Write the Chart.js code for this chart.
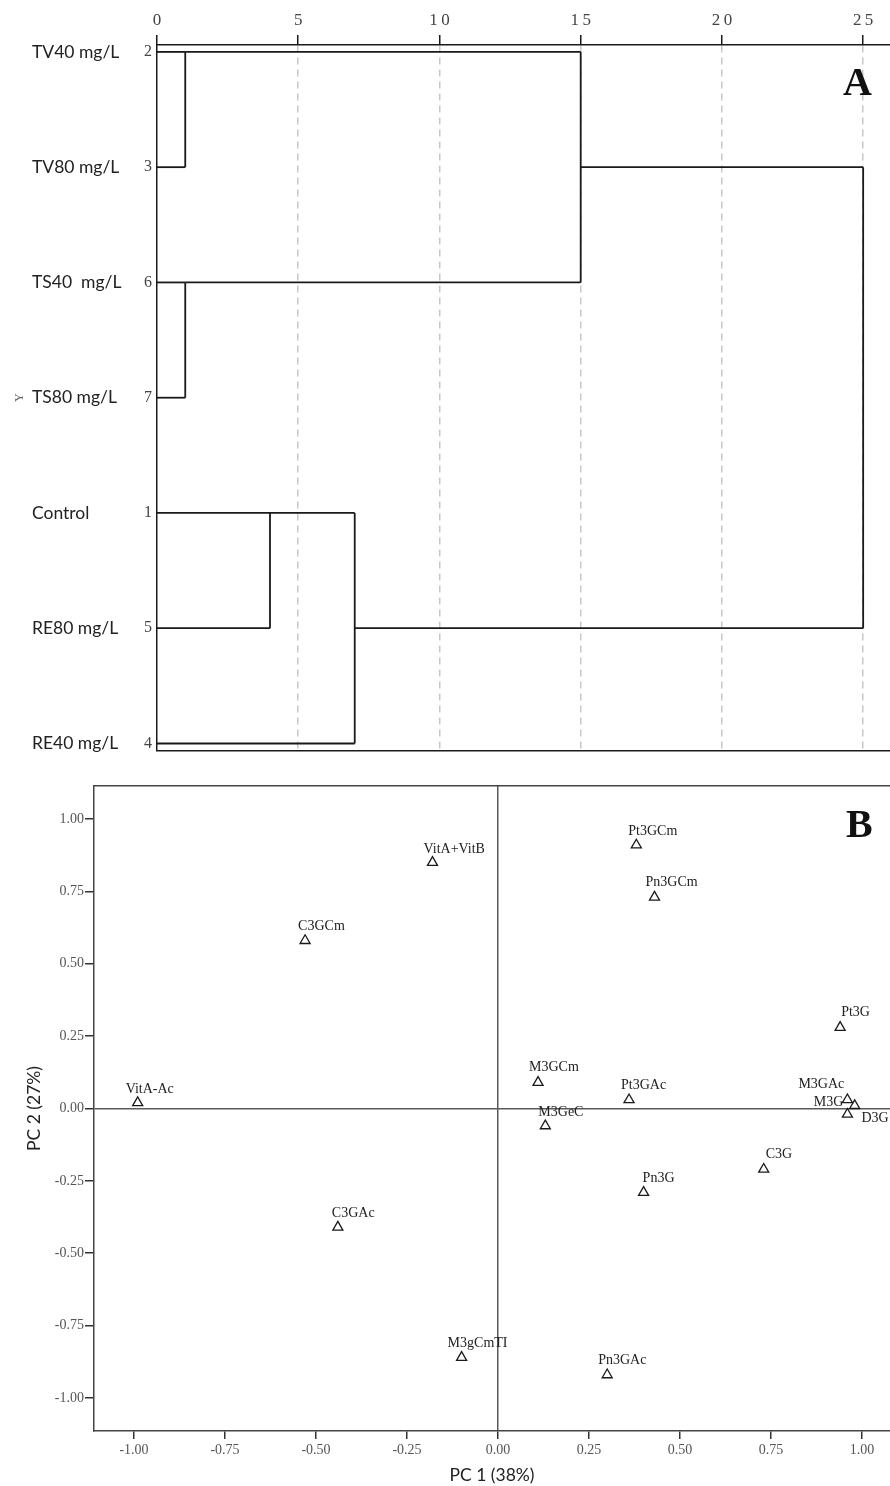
<!DOCTYPE html>
<html>
<head>
<meta charset="utf-8">
<script src="https://cdn.jsdelivr.net/npm/chart.js@4"></script>
<style>
  body { margin: 0; background: #fff; }
  #wrap { position: relative; width: 890px; height: 1486px; overflow: hidden; }
  canvas { position: absolute; left: 0; }
  #dendro { top: 0; }
  #pca { top: 765px; }
  .panel { position: absolute; font-family: 'Liberation Serif', serif; font-weight: bold; font-size: 40px; line-height: 1; color: #111; }
</style>
</head>
<body>
<div id="wrap">
  <canvas id="dendro" width="890" height="765"></canvas>
  <canvas id="pca" width="890" height="721"></canvas>
  <div class="panel" style="left:843px; top:62px;">A</div>
  <div class="panel" style="left:846px; top:804px;">B</div>
</div>
<script>
// ---- panel A: dendrogram ----
const rowNames = ['TV40 mg/L', 'TV80 mg/L', 'TS40  mg/L', 'TS80 mg/L', 'Control', 'RE80 mg/L', 'RE40 mg/L'];
const caseNumbers = ['2', '3', '6', '7', '1', '5', '4'];
const distTicks = [0, 5, 10, 15, 20, 25];
// rows are nodes 0-6, merge step k creates node 7+k
const mergeA = [0, 2, 4, 7, 9, 10];
const mergeB = [1, 3, 5, 8, 6, 11];
const mergeDist = [1, 1, 4, 15, 7, 25];
const mergeRow = [0, 2, 4, 1, 5, 1];

// ---- panel B: PCA ----
const compounds = ['VitA-Ac', 'C3GCm', 'VitA+VitB', 'Pt3GCm', 'Pn3GCm', 'Pt3G', 'M3GCm', 'Pt3GAc', 'M3GAc', 'M3G', 'D3G', 'M3GeC', 'C3G', 'Pn3G', 'C3GAc', 'M3gCmTI', 'Pn3GAc'];
const pc1 = [-0.99, -0.53, -0.18, 0.38, 0.43, 0.94, 0.11, 0.36, 0.96, 0.98, 0.96, 0.13, 0.73, 0.40, -0.44, -0.10, 0.30];
const pc2 = [0.02, 0.58, 0.85, 0.91, 0.73, 0.28, 0.09, 0.03, 0.03, 0.01, -0.02, -0.06, -0.21, -0.29, -0.41, -0.86, -0.92];
const pcTicks = [-1, -0.75, -0.5, -0.25, 0, 0.25, 0.5, 0.75, 1];

// where each label sits relative to its triangle (text left, text middle)
const labelOffset = {
  'VitA-Ac': [-12, -13], 'C3GCm': [-7, -14], 'VitA+VitB': [-9, -13], 'Pt3GCm': [-8, -14],
  'Pn3GCm': [-9, -15], 'Pt3G': [1, -15], 'M3GCm': [-9, -15], 'Pt3GAc': [-8, -14],
  'M3GAc': [-49, -15], 'M3G': [-41, -3], 'D3G': [14, 4], 'M3GeC': [-7, -14],
  'C3G': [2, -15], 'Pn3G': [-1, -14], 'C3GAc': [-6, -14], 'M3gCmTI': [-14, -14], 'Pn3GAc': [-9, -15]
};

const serif = 'Liberation Serif';
const sans = 'Lato';
const ink = '#1a1a1a';

// build dendrogram segments
const nodeDist = rowNames.map(() => 0);
const nodeRow = rowNames.map((_, i) => i);
const segments = [];
mergeA.forEach((a, k) => {
  const b = mergeB[k], d = mergeDist[k];
  [a, b].forEach(c => {
    segments.push([{ x: nodeDist[c], y: nodeRow[c] }, { x: d, y: nodeRow[c] }]);
  });
  segments.push([{ x: d, y: nodeRow[a] }, { x: d, y: nodeRow[b] }]);
  nodeDist.push(d);
  nodeRow.push(mergeRow[k]);
});

const rowTicks = s => { s.ticks = rowNames.map((_, i) => ({ value: i })); };
const rowRange = { min: -0.06, max: 6.06, reverse: true };
const noSidePad = s => { s.paddingLeft = 0; s.paddingRight = 0; };

new Chart(document.getElementById('dendro'), {
  type: 'scatter',
  data: {
    datasets: segments.map(s => ({
      data: s,
      showLine: true,
      borderColor: ink,
      borderWidth: 1.8,
      pointRadius: 0,
      clip: false
    }))
  },
  options: {
    responsive: false,
    animation: false,
    layout: { padding: 0, autoPadding: false },
    plugins: { legend: { display: false }, tooltip: { enabled: false } },
    scales: {
      x: {
        type: 'linear', position: 'top', min: 0, max: 25.95,
        afterBuildTicks: s => { s.ticks = distTicks.map(v => ({ value: v })); },
        ticks: {
          callback: v => String(v).split('').join('\u2009'),
          font: { family: serif, size: 17 }, color: '#444', padding: 4, maxRotation: 0
        },
        grid: {
          color: c => (c.tick && c.tick.value === 0) ? 'rgba(0,0,0,0)' : '#c8c8c8',
          lineWidth: 1.5, tickColor: ink, tickLength: 10, tickWidth: 1.5
        },
        border: { color: ink, width: 1.5, dash: [7, 5] },
        afterFit: s => { s.height = 45; noSidePad(s); }
      },
      xb: {
        type: 'linear', position: 'bottom', min: 0, max: 25.95,
        ticks: { display: false },
        grid: { display: false, drawTicks: false },
        border: { display: true, color: ink, width: 1.5 },
        afterFit: s => { s.height = 10; noSidePad(s); }
      },
      yTitle: {
        type: 'linear', position: 'left', weight: 3, ...rowRange,
        ticks: { display: false },
        grid: { display: false, drawTicks: false },
        border: { display: false },
        title: { display: true, text: 'Y', font: { family: serif, size: 12 }, color: '#666', padding: { top: 13, bottom: 0 } },
        afterFit: s => { s.width = 32; }
      },
      yName: {
        type: 'linear', position: 'left', weight: 2, ...rowRange,
        afterBuildTicks: rowTicks,
        ticks: { callback: v => rowNames[v], crossAlign: 'far', font: { family: sans, size: 17.5 }, color: '#222', padding: 0 },
        grid: { display: false, drawTicks: false },
        border: { display: false },
        afterFit: s => { s.width = 103; }
      },
      y: {
        type: 'linear', position: 'left', weight: 1, ...rowRange,
        afterBuildTicks: rowTicks,
        ticks: { callback: v => caseNumbers[v], font: { family: serif, size: 16 }, color: '#444', padding: 5 },
        grid: { display: false, drawTicks: false },
        border: { display: true, color: ink, width: 1.5 },
        afterFit: s => { s.width = 22; }
      }
    }
  }
});

// labels next to the triangles
const pointLabels = {
  id: 'pointLabels',
  afterDatasetsDraw(chart) {
    const ctx = chart.ctx;
    const meta = chart.getDatasetMeta(0);
    ctx.save();
    ctx.font = '14px "' + serif + '"';
    ctx.fillStyle = '#222';
    ctx.textAlign = 'left';
    ctx.textBaseline = 'middle';
    meta.data.forEach((pt, i) => {
      const name = compounds[i];
      const off = labelOffset[name] || [-9, -14];
      ctx.fillText(name, pt.x + off[0], pt.y + off[1]);
    });
    ctx.restore();
  }
};

const pcFmt = v => v.toFixed(2);
const zeroLine = c => (c.tick && c.tick.value === 0) ? '#5a5a5a' : 'rgba(0,0,0,0)';

new Chart(document.getElementById('pca'), {
  type: 'scatter',
  data: {
    datasets: [{
      data: compounds.map((_, i) => ({ x: pc1[i], y: pc2[i] })),
      pointStyle: 'triangle',
      pointRadius: 5.8,
      borderColor: ink,
      borderWidth: 1.3,
      backgroundColor: 'rgba(0,0,0,0)',
      clip: false
    }]
  },
  plugins: [pointLabels],
  options: {
    responsive: false,
    animation: false,
    layout: { padding: 0, autoPadding: false },
    plugins: { legend: { display: false }, tooltip: { enabled: false } },
    scales: {
      x: {
        type: 'linear', position: 'bottom', min: -1.11, max: 1.077,
        afterBuildTicks: s => { s.ticks = pcTicks.map(v => ({ value: v })); },
        ticks: { callback: pcFmt, font: { family: serif, size: 14 }, color: '#555', padding: 3, maxRotation: 0 },
        grid: { color: zeroLine, lineWidth: 1.5, tickColor: '#333', tickLength: 8, tickWidth: 1.5, z: 0 },
        border: { color: '#444', width: 1.5 },
        title: { display: true, text: 'PC 1 (38%)', font: { family: sans, size: 17.5 }, color: '#222', padding: { top: 1, bottom: 0 } },
        afterFit: s => { s.height = 55; noSidePad(s); }
      },
      xt: {
        type: 'linear', position: 'top', min: -1.11, max: 1.077,
        ticks: { display: false },
        grid: { display: false, drawTicks: false },
        border: { display: true, color: '#444', width: 1.5 },
        afterFit: s => { s.height = 21; noSidePad(s); }
      },
      y: {
        type: 'linear', position: 'left', min: -1.114, max: 1.114,
        afterBuildTicks: s => { s.ticks = pcTicks.map(v => ({ value: v })); },
        ticks: { callback: pcFmt, font: { family: serif, size: 14 }, color: '#555', padding: 1 },
        grid: { color: zeroLine, lineWidth: 1.5, tickColor: '#333', tickLength: 9, tickWidth: 1.5 },
        border: { color: '#444', width: 1.5 },
        title: { display: true, text: 'PC 2 (27%)', font: { family: sans, size: 17.5 }, color: '#222', padding: { top: 24, bottom: 0 } },
        afterFit: s => { s.width = 94; }
      }
    }
  }
});
</script>
</body>
</html>
